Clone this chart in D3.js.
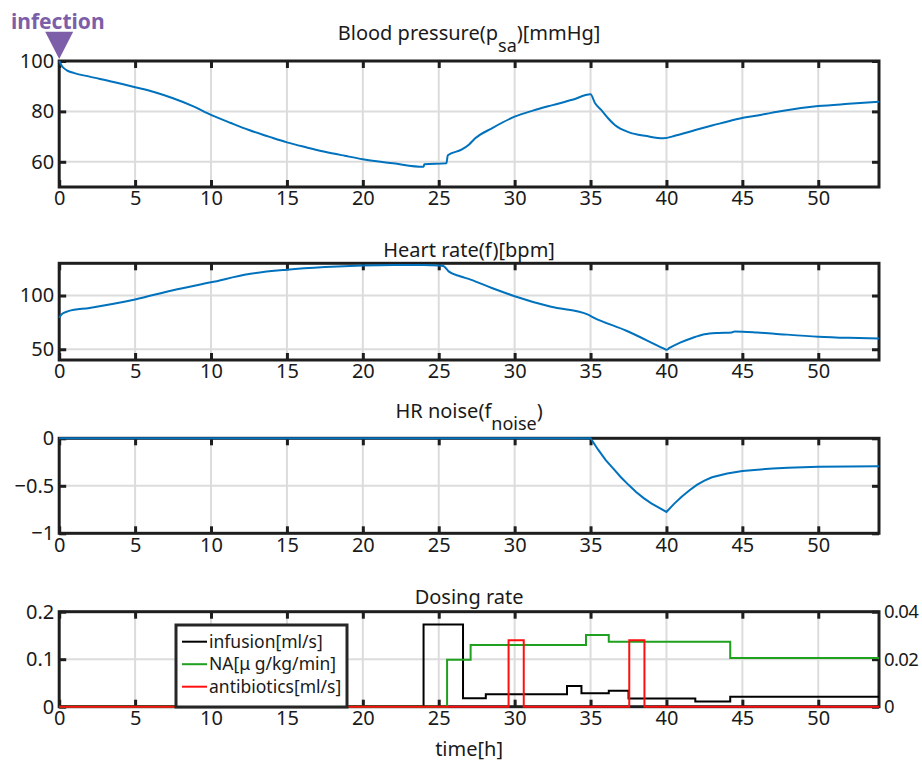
<!DOCTYPE html>
<html>
<head>
<meta charset="utf-8">
<script src="https://cdn.jsdelivr.net/npm/d3@7"></script>
<style>
  body { margin: 0; background: #fff; }
  svg { display: block; font-family: "Noto Sans", sans-serif; }
</style>
</head>
<body>
<svg id="chart" width="922" height="761"></svg>
<script>
// blood pressure p_sa [mmHg]
const bpTime = [0, 0.2, 0.5, 1, 2, 3.5, 5, 6.3, 7.5, 8.8, 10, 11.3, 12.5, 13.8, 15, 16.3, 17.5, 18.8, 20, 22, 24, 24.05, 25.5, 25.6, 26.5, 27, 27.4, 28.5, 30, 31.2, 32.5, 33.8, 35, 35.3, 35.7, 36.2, 36.6, 37.5, 38.7, 39.8, 40.6, 41.9, 43, 44.1, 44.4, 46, 47.5, 50, 52, 54];
const bpValue = [100, 97.8, 96.3, 95.2, 93.8, 91.8, 89.6, 87.6, 85.2, 82.1, 78.6, 75.4, 72.6, 70, 67.7, 65.7, 64, 62.4, 61, 59.4, 58, 59, 59.4, 62.6, 64.8, 66.9, 69.3, 73.3, 77.9, 80.3, 82.5, 84.6, 86.8, 83.2, 80.6, 77, 74.6, 71.8, 70.2, 69.3, 70.4, 72.6, 74.4, 76.1, 76.6, 78.4, 80.1, 82.1, 83, 83.8];

// heart rate f [bpm]
const hrTime = [0, 0.2, 0.6, 2, 5, 7.5, 10, 12.5, 15, 17.5, 20, 22, 24, 25, 25.3, 25.65, 26.4, 27.1, 28.5, 30, 32.4, 34.8, 35.2, 37.4, 39.8, 40, 40.2, 40.9, 41.7, 42.5, 43.4, 44.3, 44.5, 46, 47.1, 50, 52, 54];
const hrValue = [79.3, 83, 85.5, 88.5, 96.3, 105, 112.3, 120, 124, 126.5, 128, 128.5, 128.5, 128, 127.5, 122.5, 118, 114.8, 107, 99.4, 89.5, 82.4, 79.5, 67, 50.8, 49.5, 51.2, 56.2, 60.5, 63.9, 65.2, 65.6, 66.6, 65.6, 64.5, 61.7, 60.6, 59.9];

// HR noise f_noise
const noiseTime = [0, 35, 35.5, 36, 36.5, 37, 37.5, 38, 38.5, 39, 39.5, 40, 40.5, 41, 41.5, 42, 42.5, 43, 44, 45, 46, 47, 48, 50, 52, 54];
const noiseValue = [0, 0, -0.12, -0.23, -0.32, -0.41, -0.49, -0.565, -0.63, -0.685, -0.73, -0.775, -0.69, -0.615, -0.55, -0.49, -0.445, -0.41, -0.37, -0.345, -0.33, -0.318, -0.31, -0.3, -0.296, -0.293];

// dosing rates (step changes)
const infusionTime = [0, 24, 26.6, 28.1, 33.45, 34.4, 36.2, 37.5, 41.9, 44.2, 54];
const infusionRate = [0, 0.173, 0.018, 0.026, 0.0438, 0.0285, 0.0337, 0.0175, 0.011, 0.021, 0.021];
const naTime = [0, 25.55, 27.1, 34.7, 36.2, 44.2, 54];
const naRate = [0, 0.0198, 0.026, 0.0302, 0.0273, 0.0205, 0.0205];
const abTime = [0, 29.6, 30.6, 37.55, 38.55, 54];
const abRate = [0, 0.14, 0, 0.14, 0, 0];

const xTicks = [0, 5, 10, 15, 20, 25, 30, 35, 40, 45, 50];
const legendLabels = ['infusion[ml/s]', 'NA[\u03bc g/kg/min]', 'antibiotics[ml/s]'];

const svg = d3.select('#chart');
const left = 59.2, right = 879;
const x = d3.scaleLinear().domain([0, 54]).range([left, right]);
const fmt = d3.format('~g');
const frameColor = '#1e1e1e';
const gridColor = '#dcdcdc';
const blue = '#0072BD';

const zip = (t, v) => t.map((d, i) => ({ t: d, v: v[i] }));

function panel(top, bottom, yDomain, yTicks) {
  const y = d3.scaleLinear().domain(yDomain).range([bottom, top]);
  const g = svg.append('g');

  // grid
  g.selectAll('.gx').data(xTicks.slice(1)).join('line')
    .attr('x1', d => x(d)).attr('x2', d => x(d))
    .attr('y1', top).attr('y2', bottom)
    .attr('stroke', gridColor).attr('stroke-width', 2);
  g.selectAll('.gy').data(yTicks).join('line')
    .attr('x1', left).attr('x2', right)
    .attr('y1', d => y(d)).attr('y2', d => y(d))
    .attr('stroke', gridColor).attr('stroke-width', 2);

  const styleAxis = a => {
    a.select('.domain').remove();
    a.selectAll('.tick line').attr('stroke', frameColor).attr('stroke-width', 3);
    a.selectAll('text').attr('font-size', 20).attr('fill', '#1a1a1a')
      .attr('font-family', '"Noto Sans", sans-serif');
  };

  g.append('g').attr('transform', `translate(0,${bottom})`)
    .call(d3.axisBottom(x).tickValues(xTicks).tickSize(-7).tickPadding(4).tickFormat(fmt))
    .call(styleAxis);
  g.append('g').attr('transform', `translate(0,${top})`)
    .call(d3.axisTop(x).tickValues(xTicks).tickSize(-7).tickFormat(''))
    .call(styleAxis);
  g.append('g').attr('transform', `translate(${left},0)`)
    .call(d3.axisLeft(y).tickValues(yTicks).tickSize(-7).tickPadding(5).tickFormat(fmt))
    .call(styleAxis);

  g.append('rect')
    .attr('x', left).attr('y', top)
    .attr('width', right - left).attr('height', bottom - top)
    .attr('fill', 'none').attr('stroke', frameColor).attr('stroke-width', 3);

  return { g, y };
}

function title(yPos, main, sub, tail) {
  const t = svg.append('text')
    .attr('x', (left + right) / 2).attr('y', yPos)
    .attr('text-anchor', 'middle').attr('font-size', 20).attr('fill', '#1a1a1a');
  t.append('tspan').text(main);
  if (sub) {
    t.append('tspan').attr('font-size', 18).attr('dy', 12).text(sub);
    t.append('tspan').attr('dy', -12).text(tail);
  }
}

function rightTicks(g, y, yTicks) {
  g.append('g').attr('transform', `translate(${right},0)`)
    .call(d3.axisRight(y).tickValues(yTicks).tickSize(-7).tickFormat(''))
    .call(a => {
      a.select('.domain').remove();
      a.selectAll('.tick line').attr('stroke', frameColor).attr('stroke-width', 3);
    });
}

const smooth = yScale => d3.line().curve(d3.curveMonotoneX).x(d => x(d.t)).y(d => yScale(d.v));

// ---- panel 1: blood pressure
const p1 = panel(61, 187, [50, 100], [60, 80, 100]);
rightTicks(p1.g, p1.y, [60, 80, 100]);
p1.g.append('path').datum(zip(bpTime, bpValue))
  .attr('d', smooth(p1.y))
  .attr('fill', 'none').attr('stroke', blue).attr('stroke-width', 2);
title(40, 'Blood pressure(p', 'sa', ')[mmHg]');

// ---- panel 2: heart rate
const p2 = panel(263.3, 360, [40, 130], [50, 100]);
rightTicks(p2.g, p2.y, [50, 100]);
p2.g.append('path').datum(zip(hrTime, hrValue))
  .attr('d', smooth(p2.y))
  .attr('fill', 'none').attr('stroke', blue).attr('stroke-width', 2);
title(256.5, 'Heart rate(f)[bpm]');

// ---- panel 3: HR noise
const p3 = panel(438.3, 533.3, [-1, 0], [-1, -0.5, 0]);
rightTicks(p3.g, p3.y, [-1, -0.5, 0]);
p3.g.append('path').datum(zip(noiseTime, noiseValue))
  .attr('d', d3.line().x(d => x(d.t)).y(d => p3.y(d.v)))
  .attr('fill', 'none').attr('stroke', blue).attr('stroke-width', 2);
title(418, 'HR noise(f', 'noise', ')');

// ---- panel 4: dosing rate
const p4 = panel(611.7, 706.7, [0, 0.2], [0, 0.1, 0.2]);
const yR = d3.scaleLinear().domain([0, 0.04]).range([706.7, 611.7]);
p4.g.append('g').attr('transform', `translate(${right},0)`)
  .call(d3.axisRight(yR).tickValues([0, 0.02, 0.04]).tickSize(-7).tickPadding(5).tickFormat(fmt))
  .call(a => {
    a.select('.domain').remove();
    a.selectAll('.tick line').attr('stroke', frameColor).attr('stroke-width', 3);
    a.selectAll('text').attr('font-size', 18.5).attr('letter-spacing', -0.6).attr('fill', '#1a1a1a')
      .attr('font-family', '"Noto Sans", sans-serif');
  });

const step = yScale => d3.line().curve(d3.curveStepAfter).x(d => x(d.t)).y(d => yScale(d.v));
const dosing = [
  { data: zip(infusionTime, infusionRate), y: p4.y, color: '#000000' },
  { data: zip(naTime, naRate), y: yR, color: '#1fa01f' },
  { data: zip(abTime, abRate), y: p4.y, color: '#ff1010' }
];
dosing.forEach(s => {
  p4.g.append('path').datum(s.data)
    .attr('d', step(s.y))
    .attr('fill', 'none').attr('stroke', s.color).attr('stroke-width', 2);
});
title(604, 'Dosing rate');

// legend
const lg = svg.append('g');
lg.append('rect').attr('x', 176).attr('y', 625).attr('width', 171).attr('height', 82)
  .attr('fill', '#fff').attr('stroke', '#262626').attr('stroke-width', 3);
legendLabels.forEach((label, i) => {
  const cy = 641.7 + i * 22.5;
  lg.append('line').attr('x1', 182).attr('x2', 207).attr('y1', cy).attr('y2', cy)
    .attr('stroke', dosing[i].color).attr('stroke-width', 2);
  lg.append('text').attr('x', 209).attr('y', cy).attr('dy', '0.35em')
    .attr('font-size', 17.5).attr('fill', '#1a1a1a').text(label);
});

// x label
svg.append('text').attr('x', (left + right) / 2).attr('y', 756)
  .attr('text-anchor', 'middle').attr('font-size', 20).attr('fill', '#1a1a1a').text('time[h]');

// infection marker
const purple = '#7d5ea8';
const x0 = x(0);
svg.append('path')
  .attr('d', `M${x0 - 14},31.7 L${x0 + 14},31.7 L${x0},59 Z`)
  .attr('fill', purple);
svg.append('text').attr('x', 11).attr('y', 29).attr('font-size', 21)
  .attr('font-weight', 'bold').attr('fill', purple).text('infection');
</script>
</body>
</html>
